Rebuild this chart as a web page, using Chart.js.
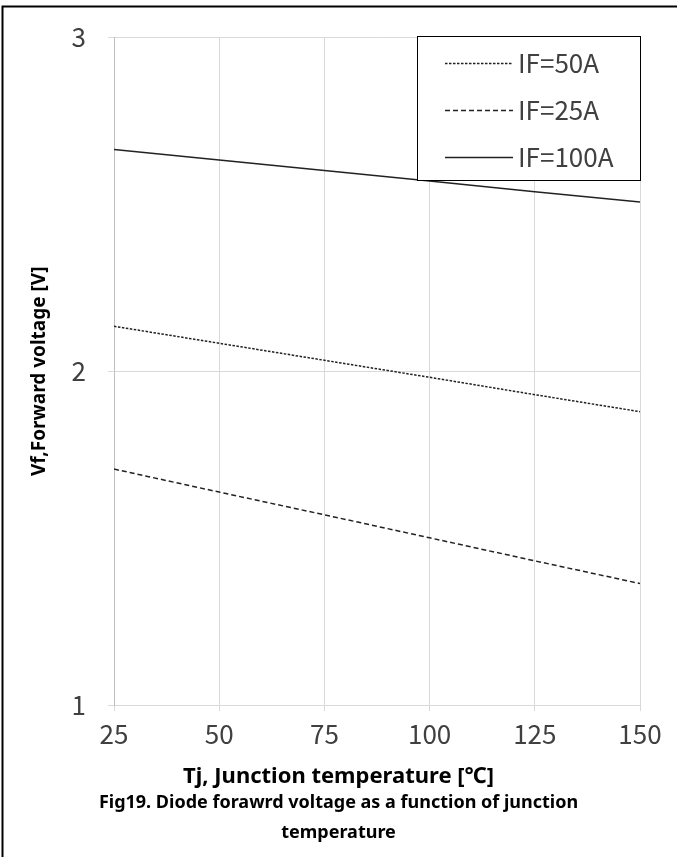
<!DOCTYPE html>
<html>
<head>
<meta charset="utf-8">
<script src="https://cdn.jsdelivr.net/npm/chart.js@4.4.0/dist/chart.umd.min.js"></script>
<style>
  html, body { margin: 0; padding: 0; background: #fff; }
  #wrap { width: 677px; height: 857px; position: relative; }
</style>
</head>
<body>
<div id="wrap"><canvas id="c" width="677" height="857"></canvas></div>
<script>
const temperatures = [25, 50, 75, 100, 125, 150];
const vf50A  = [2.135, 2.084, 2.033, 1.982, 1.930, 1.879];
const vf25A  = [1.707, 1.638, 1.570, 1.501, 1.432, 1.364];
const vf100A = [2.665, 2.633, 2.602, 2.570, 2.538, 2.507];
const seriesLabels = ['IF=50A', 'IF=25A', 'IF=100A'];
const xTicks = [25, 50, 75, 100, 125, 150];
const yTicks = [1, 2, 3];

const xTitle = 'Tj, Junction temperature [℃]';
const yTitle = 'Vf,Forward voltage [V]';
const caption = ['Fig19. Diode forawrd voltage as a function of junction', 'temperature'];

const tickFont = "'Noto Sans CJK SC', 'Noto Sans', sans-serif";
const boldFont = "'Noto Sans', 'Open Sans', sans-serif";
const textGray = '#404040';
const gridGray = '#d9d9d9';

function pts(vals) { return temperatures.map((t, i) => ({ x: t, y: vals[i] })); }

const frameAndLegend = {
  id: 'frameAndLegend',
  afterDraw(chart) {
    const ctx = chart.ctx;
    ctx.save();
    // outer frame (top and left edges visible)
    ctx.strokeStyle = '#000';
    ctx.lineWidth = 2;
    ctx.beginPath();
    ctx.moveTo(2.5, 857);
    ctx.lineTo(2.5, 6.5);
    ctx.lineTo(677, 6.5);
    ctx.stroke();

    // legend box
    const bx = 417.5, by = 36.5, bw = 223, bh = 144;
    ctx.fillStyle = '#fff';
    ctx.fillRect(bx, by, bw, bh);
    ctx.strokeStyle = '#000';
    ctx.lineWidth = 1;
    ctx.strokeRect(bx, by, bw, bh);
    const rows = [63, 110, 157];
    chart.data.datasets.forEach((ds, i) => {
      const y = rows[i];
      ctx.strokeStyle = ds.borderColor;
      ctx.lineWidth = ds.borderWidth;
      ctx.setLineDash(ds.borderDash || []);
      ctx.beginPath();
      ctx.moveTo(445, y + 0.5);
      ctx.lineTo(513, y + 0.5);
      ctx.stroke();
      ctx.setLineDash([]);
      ctx.fillStyle = textGray;
      ctx.font = "26px " + tickFont;
      ctx.textAlign = 'left';
      ctx.textBaseline = 'middle';
      ctx.fillText(ds.label, 518, y);
    });
    ctx.restore();
  }
};

new Chart(document.getElementById('c'), {
  type: 'line',
  data: {
    datasets: [
      { label: seriesLabels[0], data: pts(vf50A), borderColor: '#222', borderWidth: 1.5, borderDash: [2.5, 1.5], pointRadius: 0, fill: false, tension: 0 },
      { label: seriesLabels[1], data: pts(vf25A), borderColor: '#222', borderWidth: 1.5, borderDash: [5, 3], pointRadius: 0, fill: false, tension: 0 },
      { label: seriesLabels[2], data: pts(vf100A), borderColor: '#222', borderWidth: 1.5, pointRadius: 0, fill: false, tension: 0 }
    ]
  },
  options: {
    responsive: false,
    animation: false,
    devicePixelRatio: 1,
    layout: { padding: { left: 0, right: 0, top: 36, bottom: 0 } },
    plugins: {
      legend: { display: false },
      tooltip: { enabled: false },
      subtitle: {
        display: true,
        position: 'bottom',
        text: xTitle,
        color: '#000',
        font: { family: boldFont, size: 22, weight: 'bold', lineHeight: '22px' },
        padding: { top: 0, bottom: 0 }
      },
      title: {
        display: true,
        position: 'bottom',
        text: caption,
        color: '#000',
        font: { family: boldFont, size: 18, weight: 'bold', lineHeight: '30px' },
        padding: { top: 0, bottom: 9 }
      }
    },
    scales: {
      x: {
        type: 'linear',
        min: 25, max: 150,
        afterBuildTicks(scale) { scale.ticks = xTicks.map(v => ({ value: v })); },
        afterFit(scale) { scale.height = 61; },
        grid: { color: gridGray, lineWidth: 1, drawTicks: true, tickLength: 6 },
        border: { color: gridGray },
        ticks: { color: textGray, font: { family: tickFont, size: 26, lineHeight: 1.2 }, padding: 8, maxRotation: 0 }
      },
      y: {
        type: 'linear',
        min: 1, max: 3,
        afterBuildTicks(scale) { scale.ticks = yTicks.map(v => ({ value: v })); },
        afterFit(scale) { scale.width = 114; },
        grid: { color: gridGray, lineWidth: 1, drawTicks: true, tickLength: 6 },
        border: { color: '#bfbfbf' },
        ticks: { color: textGray, font: { family: tickFont, size: 26 }, padding: 22 },
        title: { display: true, text: yTitle, color: '#000', font: { family: boldFont, size: 19, weight: 'bold', lineHeight: 1 }, padding: { top: 30, bottom: 0 } }
      },
      yRight: {
        type: 'linear',
        position: 'right',
        display: true,
        min: 1, max: 3,
        afterFit(scale) { scale.width = 37; },
        grid: { display: false, drawTicks: false },
        border: { display: false },
        ticks: { display: false }
      }
    }
  },
  plugins: [frameAndLegend]
});
</script>
</body>
</html>
